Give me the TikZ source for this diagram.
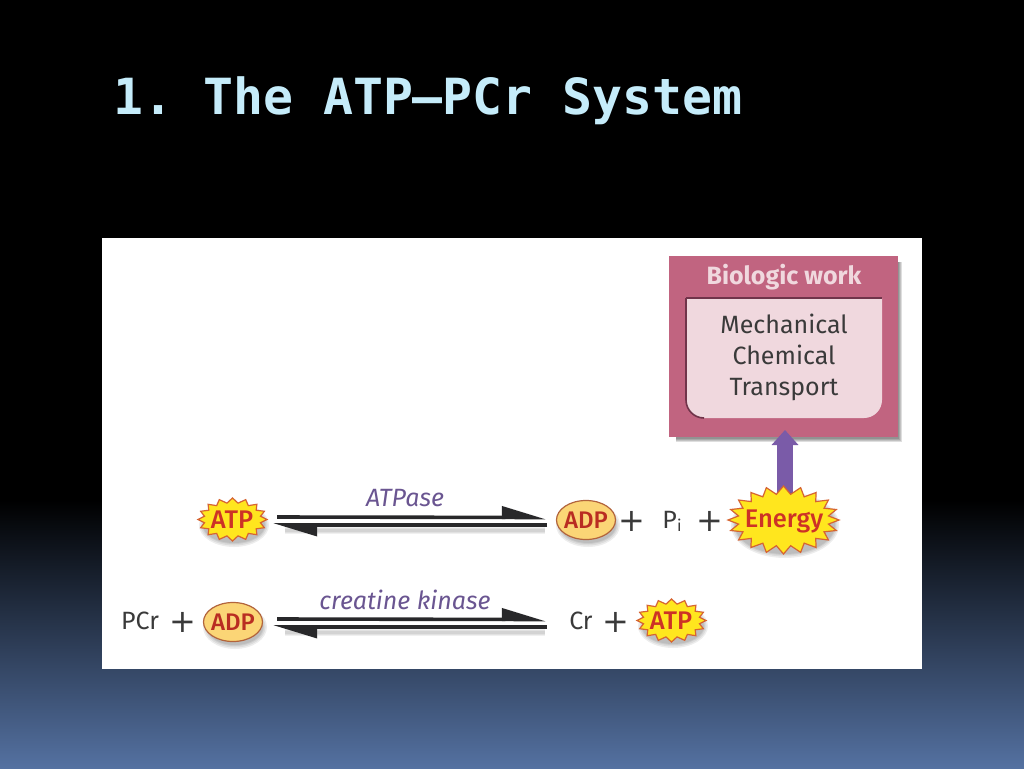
\documentclass[tikz,border=0pt]{standalone}
\usepackage{fontspec}
\setmainfont{Fira Sans}
\newfontfamily\titlefont{DejaVu Sans Mono}
\newfontfamily\mathsym{DejaVu Sans}
\newfontfamily\medfont{Fira Sans Medium}
\usetikzlibrary{arrows.meta,shapes.geometric}
\definecolor{titleblue}{RGB}{197,236,250}
\definecolor{bgblue}{RGB}{84,113,161}
\definecolor{boxpink}{RGB}{193,100,128}
\definecolor{innerpink}{RGB}{240,216,222}
\definecolor{darkrose}{RGB}{112,52,74}
\definecolor{purplearrow}{RGB}{122,91,168}
\definecolor{enzyme}{RGB}{106,85,145}
\definecolor{labelgrey}{RGB}{58,58,58}
\definecolor{burstfill}{RGB}{255,230,30}
\definecolor{burstline}{RGB}{214,100,50}
\definecolor{ovalfill}{RGB}{251,213,118}
\definecolor{ovalline}{RGB}{178,100,60}
\definecolor{chemred}{RGB}{205,50,38}
\definecolor{raildark}{RGB}{40,40,42}
\newcommand{\fsz}[1]{\fontsize{#1}{#1}\selectfont}
% soft ellipse shadow: cx cy rx ry
\newcommand{\softell}[4]{%
  \foreach \g in {4,2.5,1,0}{\fill[black,opacity=0.07] (#1+2,#2+5) ellipse[x radius={(#3+\g)*1pt},y radius={(#4+\g)*1pt}];}}
% burst outline: cx cy rx ry points depth
\newcommand{\burstshape}[6]{%
  \draw[burstline,fill=burstfill,line width=1.2pt,line join=miter]
    plot[samples at={0,...,\numexpr2*#5-1\relax}]
    ({#1+(#3-#6*mod(\x,2))*cos(\x*180/#5)},{#2+(#4-#6*0.8*mod(\x,2))*sin(\x*180/#5)}) -- cycle;}
% soft rail shadow: x1 x2 y
\newcommand{\railsoft}[3]{%
  \foreach \g in {7,5,3}{\draw[black,opacity=0.06,line width=\g pt] (#1,#3) -- (#2,#3);}}
\tikzset{
  x=1pt,y=-1pt,
  chem/.style={font=\medfont\fsz{25.5},text=chemred,inner sep=0pt},
  oval/.style={ellipse,draw=ovalline,fill=ovalfill,line width=1.2pt,inner sep=-8pt,minimum width=59pt,minimum height=39pt,font=\medfont\fsz{24},text=chemred!90!black},
  lab/.style={font=\fsz{25},text=labelgrey,inner sep=0pt},
  plussign/.style={font=\mathsym\fsz{32},text=labelgrey,inner sep=0pt},
  enz/.style={font=\fsz{25}\itshape,text=enzyme,inner sep=0pt},
  rail/.style={raildark,line width=3.6pt},
  fwdtip/.style={-{Triangle[harpoon,length=38pt,width=22pt]}},
}
\begin{document}
\begin{tikzpicture}
\useasboundingbox (0,0) rectangle (1024,768);
\fill[black] (0,0) rectangle (1024,768);
\shade[top color=black,bottom color=bgblue] (0,500) rectangle (1024,768);
\node[anchor=west,inner sep=0pt,text=titleblue,font=\titlefont\bfseries\fsz{49.8}] (title) at (113,101) {\frenchspacing 1. The ATP–PCr System};
\fill[white] (102,238) rectangle (922,669);

% pink box
\foreach \g in {3,2,1,0}{\fill[black,opacity=0.13] (676,262) rectangle (899+\g,439+\g);}
\node[draw=none,fill=boxpink,minimum width=229pt,minimum height=181pt,inner sep=0pt] (workbox) at (783.5,346.5) {};
\node[font=\fsz{25}\bfseries,text=innerpink,inner sep=0pt] (worktitle) at (784,277) {Biologic work};
\fill[innerpink] (686,298) -- (882,298) [rounded corners=18pt] -- (882,418) -- (686,418) [sharp corners] -- cycle;
\draw[darkrose,line width=1.6pt,rounded corners=18pt] (704,418) -- (686,418) -- (686,298);
\draw[darkrose,line width=1.6pt] (686,298) -- (882,298);
\node[font=\fsz{25},text=labelgrey,align=center,inner sep=0pt,text depth=0pt] (worklist) at (784,355) {Mechanical\\[6pt]Chemical\\[6pt]Transport};

% rails
\coordinate (r1a) at (277,517);
\coordinate (r1b) at (546,517.5);
\coordinate (r1c) at (547,525);
\coordinate (r1d) at (273,525);
\coordinate (r2a) at (277,619);
\coordinate (r2b) at (546,619.5);
\coordinate (r2c) at (547,627);
\coordinate (r2d) at (273,627);
\railsoft{285}{545}{530}
\railsoft{285}{545}{632}
\draw[rail,fwdtip] (r1a) -- (r1b);
\draw[rail,fwdtip] (r1c) -- (r1d);
\draw[rail,fwdtip] (r2a) -- (r2b);
\draw[rail,fwdtip] (r2c) -- (r2d);
\node[enz] (atpase) at (405,498) {ATPase};
\node[enz] (kinase) at (405,600) {creatine kinase};

% purple arrow
\coordinate (energytop) at (785,495);
\coordinate (worktip) at (785,430);
\draw[purplearrow,line width=16pt,-{Triangle[length=15pt,width=26pt]}] (energytop) -- (worktip);

% first row
\softell{232}{520}{31}{18}
\burstshape{232.5}{519.5}{34.5}{21.5}{16}{6}
\node[chem] (atpone) at (232,520) {ATP};
\softell{586}{520}{28}{18}
\node[oval] (adpone) at (586,520) {ADP};
\node[plussign] (plusone) at (632,521) {+};
\node[lab] (pi) at (672,521) {P\raisebox{-3pt}{\fsz{16}i}};
\node[plussign] (plustwo) at (710,521) {+};
\softell{783}{520}{50}{29}
\burstshape{783.5}{520}{55.5}{34}{20}{10}
\node[chem] (energy) at (784,521) {Energy};

% second row
\node[lab] (pcr) at (140,621) {PCr};
\node[plussign] (plusthree) at (183,622) {+};
\softell{233}{622}{28}{18}
\node[oval] (adptwo) at (233,622) {ADP};
\node[lab] (cr) at (581,621) {Cr};
\node[plussign] (plusfour) at (616,622) {+};
\softell{671}{621}{31}{18}
\burstshape{671.5}{620.5}{34.5}{21.5}{16}{6}
\node[chem] (atptwo) at (671,621) {ATP};
\end{tikzpicture}
\end{document}
